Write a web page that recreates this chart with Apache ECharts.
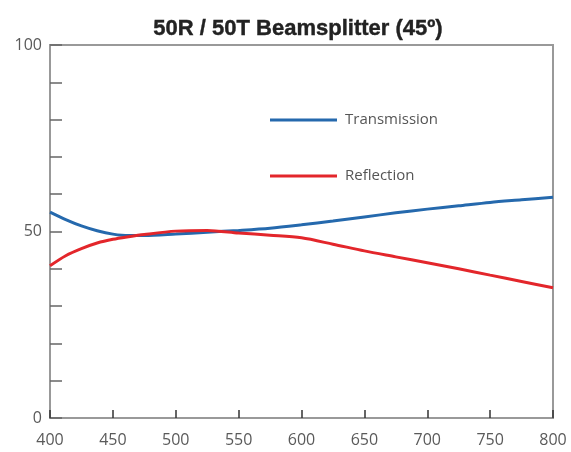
<!DOCTYPE html>
<html>
<head>
    <meta charset="utf-8"/>
    <style>
        html, body {
            height: 100%;
            margin: 0;
            padding: 0;
            background: #ffffff;
        }
        #main {
            width: 571px;
            height: 452px;
        }
    </style>
</head>
<body>
<div id="main"></div>
<script src="https://cdn.jsdelivr.net/npm/echarts@6/dist/echarts.min.js"></script>
<script type="text/javascript">
    // wavelength (nm)
    var wavelengths = [400, 412.5, 425, 437.5, 450, 462.5, 475, 500, 525, 550, 575, 600, 625, 650, 675, 700, 725, 750, 775, 800];
    // percent
    var transmission = [55.2, 53.2, 51.5, 50.2, 49.3, 48.9, 48.9, 49.3, 49.8, 50.3, 50.9, 51.8, 52.8, 53.9, 55.0, 56.0, 56.9, 57.8, 58.5, 59.2];
    var reflection = [40.8, 43.5, 45.4, 46.9, 47.9, 48.6, 49.2, 50.1, 50.3, 49.6, 49.0, 48.3, 46.6, 44.8, 43.2, 41.6, 40.0, 38.3, 36.6, 34.9];
    var yLabels = [0, 50, 100];

    function pairs(xs, ys) {
        var out = [];
        for (var i = 0; i < xs.length; i++) {
            out.push([xs[i], ys[i]]);
        }
        return out;
    }

    var myChart = echarts.init(document.getElementById('main'));

    var option = {
        animation: false,
        title: {
            text: '50R / 50T Beamsplitter (45º)',
            left: 293,
            textAlign: 'center',
            top: 13,
            textStyle: {
                color: '#222222',
                fontFamily: 'Liberation Sans',
                fontWeight: 'bold',
                fontSize: 22,
                textBorderColor: '#222222',
                textBorderWidth: 0.4
            }
        },
        legend: {
            orient: 'vertical',
            left: 270,
            top: 111,
            padding: 0,
            itemWidth: 67,
            itemHeight: 3,
            itemGap: 38,
            icon: 'rect',
            selectedMode: false,
            data: ['Transmission', 'Reflection'],
            textStyle: {
                color: '#555555',
                fontFamily: 'Open Sans',
                fontSize: 15,
                lineHeight: 18,
                padding: [0, 0, 0, 3]
            }
        },
        grid: {
            left: 50,
            right: 18,
            top: 45,
            bottom: 34,
            show: true,
            borderColor: '#999999',
            borderWidth: 2
        },
        xAxis: {
            type: 'value',
            min: 400,
            max: 800,
            interval: 50,
            axisLine: {
                show: true,
                lineStyle: {color: '#999999', width: 2}
            },
            axisTick: {
                show: true,
                inside: true,
                length: 8,
                lineStyle: {color: '#333333', width: 1.5}
            },
            axisLabel: {
                color: '#5a5a5a',
                fontFamily: 'Open Sans',
                fontSize: 16,
                margin: 14
            },
            splitLine: {show: false}
        },
        yAxis: {
            type: 'value',
            min: 0,
            max: 100,
            interval: 10,
            axisLine: {
                show: true,
                lineStyle: {color: '#999999', width: 2}
            },
            axisTick: {
                show: true,
                inside: true,
                length: 12,
                lineStyle: {color: '#666666', width: 1.5}
            },
            axisLabel: {
                color: '#5a5a5a',
                fontFamily: 'Open Sans',
                fontSize: 16,
                margin: 8,
                formatter: function (v) {
                    return yLabels.indexOf(v) >= 0 ? String(v) : '';
                }
            },
            splitLine: {show: false}
        },
        series: [{
            name: 'Transmission',
            type: 'line',
            smooth: 0.3,
            showSymbol: false,
            itemStyle: {color: '#2569ad'},
            lineStyle: {color: '#2569ad', width: 3},
            data: pairs(wavelengths, transmission)
        }, {
            name: 'Reflection',
            type: 'line',
            smooth: 0.3,
            showSymbol: false,
            itemStyle: {color: '#e3262b'},
            lineStyle: {color: '#e3262b', width: 3},
            data: pairs(wavelengths, reflection)
        }]
    };

    myChart.setOption(option);
</script>
</body>
</html>
